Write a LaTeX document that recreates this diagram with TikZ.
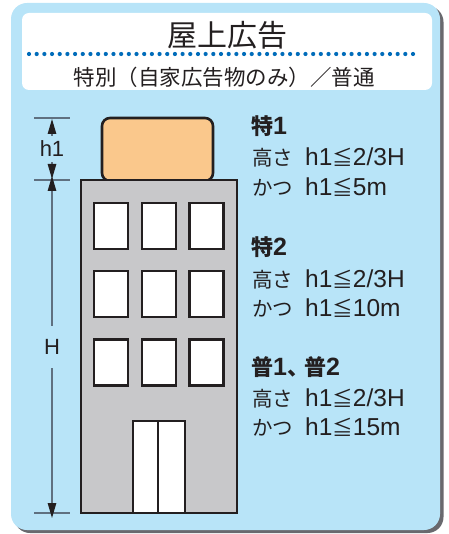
\documentclass[tikz,border=0pt]{standalone}
\usepackage{fontspec}
\setmainfont{Liberation Sans}
\newfontfamily\jp{Noto Sans CJK JP}
\usetikzlibrary{arrows.meta}

\definecolor{panelblue}{RGB}{184,228,248}
\definecolor{panelshadow}{RGB}{105,105,110}
\definecolor{dotblue}{RGB}{0,108,186}
\definecolor{wallgray}{RGB}{200,200,202}
\definecolor{signorange}{RGB}{250,200,140}
\definecolor{outline}{RGB}{35,31,32}
\definecolor{dimgray}{RGB}{95,112,128}
\definecolor{inkblack}{RGB}{35,31,32}

% CJK run inside a Latin line, set a little smaller than the Latin text
\newcommand\cj[1]{{\fontsize{20.5}{20}\selectfont\jp #1}}
\newcommand\cjh[1]{{\fontsize{22}{22}\selectfont\jp #1}}

\tikzset{
  panel/.style={fill=panelblue, rounded corners=16pt},
  titlebox/.style={fill=white, rounded corners=7pt},
  wall/.style={draw=outline, fill=wallgray, line width=2.6pt},
  sign/.style={draw=outline, fill=signorange, line width=2.6pt, rounded corners=8pt},
  window/.style={draw=outline, fill=white, line width=2.6pt, minimum width=34pt, minimum height=46pt, inner sep=0pt},
  doorleaf/.style={draw=outline, fill=white, line width=2.6pt},
  tick/.style={draw=dimgray, line width=1.1pt},
  dimline/.style={draw=dimgray, line width=1.1pt, -{Triangle[length=15pt,width=8.5pt,fill=inkblack,color=inkblack]}},
  dimlabel/.style={fill=panelblue, inner sep=0pt, text=inkblack, font=\fontsize{22}{22}\selectfont},
  heading/.style={anchor=west, inner sep=0pt, text=inkblack, font=\fontsize{25}{25}\selectfont\bfseries},
  rule/.style={anchor=west, inner sep=0pt, text=inkblack, font=\fontsize{24.5}{24}\selectfont},
}

\begin{document}
\begin{tikzpicture}[x=1pt, y=-1pt]
\useasboundingbox (0,0) rectangle (448,534);

% panel with its drop shadow
\fill[panelshadow, rounded corners=16pt] (14,6) rectangle (443.5,533);
\path[panel] (11,3) rectangle (440,530);

% title card
\path[titlebox] (22,13) rectangle (432,90);
\node[text=inkblack, font=\fontsize{30}{30}\selectfont\jp] (title) at (227,35) {屋上広告};
\foreach \i in {0,...,50}
  \fill[dotblue] ({29+\i*7.68},54) circle (2.1pt);
\node[text=inkblack, font=\fontsize{21.5}{22}\selectfont\jp] (subtitle) at (224,77) {特別（自家広告物のみ）／普通};

% building
\node[sign, minimum width=111pt, minimum height=63pt, inner sep=0pt] (board) at (157.5,149.5) {};
\path[wall] (81,180) rectangle (237,513);

\foreach \r/\y in {1/226,2/294,3/362.5}
  \foreach \c/\x in {1/111,2/159,3/206.5}
    \node[window] (w\r\c) at (\x,\y) {};

\path[doorleaf] (133,421) rectangle (158,513);
\path[doorleaf] (158,421) rectangle (185,513);

% dimension lines
\coordinate (t1) at (52,118);
\coordinate (t2) at (52,180);
\coordinate (t3) at (52,513);
\draw[tick] (34,118) -- (70,118);
\draw[tick] (34,180) -- (70,180);
\draw[tick] (34,513) -- (70,513);

\node[dimlabel, minimum height=26pt] (h1) at (52,149) {h1};
\draw[dimline] (h1.north) -- ([yshift=-1pt]t1);
\draw[dimline] (h1.south) -- ([yshift=1pt]t2);

\node[dimlabel, minimum height=42pt] (H) at (52,347) {H};
\draw[dimline] (H.north) -- ([yshift=4pt]t2);
\draw[dimline] (H.south) -- ([yshift=-5pt]t3);

% conditions
\node[heading] (g1) at (251,126) {\cjh{特}1};
\node[rule] (g1a) at (252,157) {\cj{高さ}\hspace{12pt}h1\cj{≦}2/3H};
\node[rule] (g1b) at (252,187) {\cj{かつ}\hspace{12pt}h1\cj{≦}5m};

\node[heading] (g2) at (251,247) {\cjh{特}2};
\node[rule] (g2a) at (252,279) {\cj{高さ}\hspace{12pt}h1\cj{≦}2/3H};
\node[rule] (g2b) at (252,308) {\cj{かつ}\hspace{12pt}h1\cj{≦}10m};

\node[heading] (g3) at (251,367) {\cjh{普}1\cjh{、}\hspace{-5pt}\cjh{普}2};
\node[rule] (g3a) at (252,398) {\cj{高さ}\hspace{12pt}h1\cj{≦}2/3H};
\node[rule] (g3b) at (252,427) {\cj{かつ}\hspace{12pt}h1\cj{≦}15m};
\end{tikzpicture}
\end{document}
